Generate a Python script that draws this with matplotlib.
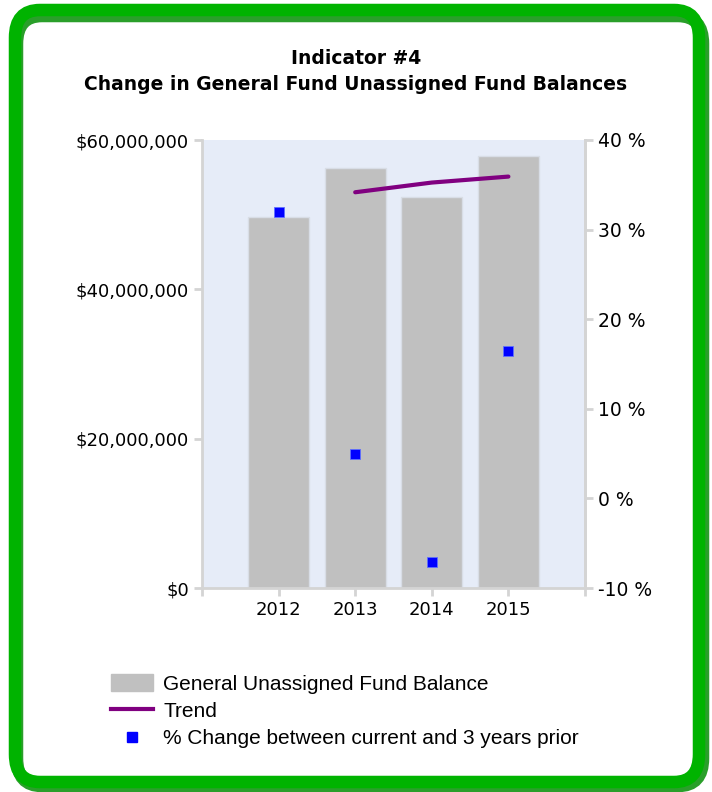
import matplotlib.pyplot as plt
import numpy as np
from matplotlib.patches import FancyBboxPatch
from matplotlib.lines import Line2D
from matplotlib.patches import Patch
from matplotlib.ticker import FuncFormatter

years = ["2012", "2013", "2014", "2015"]
fund_balance = [49.7e6, 56.3e6, 52.3e6, 57.9e6]
trend_years = ["2013", "2014", "2015"]
trend_values = [53.0e6, 54.3e6, 55.1e6]
pct_change = [32.0, 4.9, -7.1, 16.4]
pct_ticks = [-10, 0, 10, 20, 30, 40]

W, H = 712, 792
fig = plt.figure(figsize=(W / 100, H / 100), dpi=100)

# green rounded frame with a little shadow
shadow = FancyBboxPatch((17 / W, 6 / H), 686 / W, 770 / H,
                        boxstyle="round,pad=0,rounding_size=0.035",
                        transform=fig.transFigure, fill=False,
                        ec="#2a9f2a", lw=9, zorder=0)
frame = FancyBboxPatch((15 / W, 10 / H), 684 / W, 772 / H,
                       boxstyle="round,pad=0,rounding_size=0.035",
                       transform=fig.transFigure, fill=False,
                       ec="#00b300", lw=9, zorder=1)
fig.patches.extend([shadow, frame])

ax = fig.add_axes([202 / W, 1 - 588 / H, 383 / W, 448 / H])
x = np.arange(len(years))
ax.set_facecolor("#e6ecf8")
ax.bar(x, fund_balance, width=0.8, color="#c0c0c0", edgecolor="#d8dde6", lw=1, zorder=2)
tx = [years.index(y) for y in trend_years]
ax.plot(tx, trend_values, color="#800080", lw=3, solid_capstyle="round", zorder=4)
ax.set_xlim(-1, 4)
ax.set_ylim(0, 60e6)
ax.set_yticks([0, 20e6, 40e6, 60e6])
ax.yaxis.set_major_formatter(FuncFormatter(lambda v, p: f"${v:,.0f}"))
ax.set_xticks([-1, 0, 1, 2, 3, 4])
ax.set_xticklabels([""] + years + [""])

ax2 = ax.twinx()
ax2.set_ylim(-10, 40)
ax2.set_yticks(pct_ticks)
ax2.set_yticklabels([f"{v} %" for v in pct_ticks])
ax2.plot(x, pct_change, ls="none", marker="s", ms=7.5, color="#0000ff",
         mec="#6070ff", mew=0.6, zorder=5)

for a in (ax, ax2):
    for s in a.spines.values():
        s.set_color("#d4d4d4")
        s.set_linewidth(2)
    a.spines["top"].set_visible(False)
    a.tick_params(colors="#d4d4d4", labelcolor="black", labelsize=13,
                  length=6, width=2)
ax2.tick_params(labelsize=13.5)
ax2.spines["left"].set_visible(False)
ax2.spines["bottom"].set_visible(False)

fig.text(0.5, 1 - 58 / H, "Indicator #4", ha="center", va="center",
         fontsize=13.5, fontweight="bold")
fig.text(0.5, 1 - 85 / H, "Change in General Fund Unassigned Fund Balances",
         ha="center", va="center", fontsize=13.5, fontweight="bold")

handles = [
    Patch(facecolor="#c0c0c0", edgecolor="#c0c0c0"),
    Line2D([], [], color="#800080", lw=3),
    Line2D([], [], ls="none", marker="s", ms=6.5, color="#0000ff"),
]
labels = ["General Unassigned Fund Balance", "Trend",
          "% Change between current and 3 years prior"]
fig.legend(handles, labels, loc="upper left", bbox_to_anchor=(111 / W, 1 - 674 / H),
           frameon=False, prop={"family": "Liberation Sans", "size": 15},
           borderaxespad=0, borderpad=0,
           handlelength=2.0, handleheight=0.9, labelspacing=0.36, handletextpad=0.5)

fig.savefig("out.png", dpi=100)
